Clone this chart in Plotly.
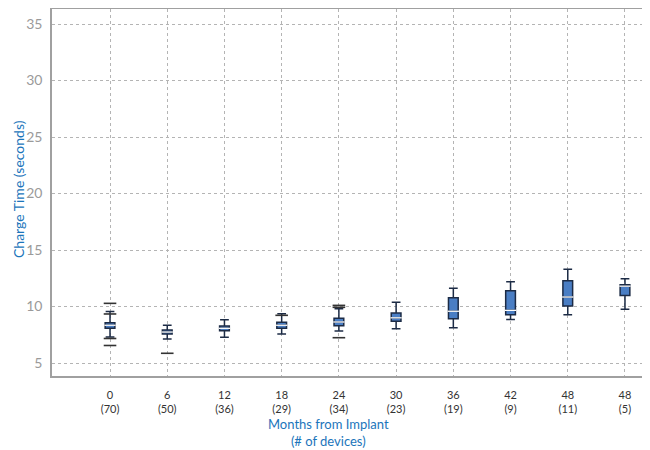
import plotly.graph_objects as go

months = ["0", "6", "12", "18", "24", "30", "36", "42", "48", "48"]
devices = ["70", "50", "36", "29", "34", "23", "19", "9", "11", "5"]
q1 = [8.07, 7.57, 7.86, 8.07, 8.30, 8.69, 8.92, 9.27, 10.04, 10.98]
median = [8.34, 7.74, 8.07, 8.34, 8.63, 9.00, 9.58, 9.66, 10.84, 11.80]
q3 = [8.57, 7.92, 8.27, 8.60, 8.96, 9.42, 10.78, 11.40, 12.28, 11.93]
lowerfence = [7.30, 7.12, 7.27, 7.57, 7.83, 8.04, 8.12, 8.86, 9.27, 9.75]
upperfence = [9.55, 8.34, 8.83, 9.36, 9.80, 10.37, 11.61, 12.19, 13.29, 12.46]
outlier_idx = [0, 0, 0, 0, 1, 3, 4, 4, 4]
outlier_val = [10.28, 9.34, 7.17, 6.55, 5.86, 9.22, 9.93, 10.10, 7.24]

pos = list(range(len(months)))
ticktext = [f"{m}<br>({d})" for m, d in zip(months, devices)]

fig = go.Figure()
fig.add_trace(go.Box(
    x=pos, q1=q1, median=median, q3=q3,
    lowerfence=lowerfence, upperfence=upperfence,
    width=0.17, whiskerwidth=0.9,
    fillcolor="#4a7ec4", line=dict(color="#1c2b45", width=1.5),
    boxpoints=False, showlegend=False, hoverinfo="skip",
))
fig.add_trace(go.Scatter(
    x=outlier_idx, y=outlier_val, mode="markers",
    marker=dict(symbol="line-ew", size=9, line=dict(color="#333333", width=1.6)),
    showlegend=False, hoverinfo="skip",
))
fig.add_trace(go.Scatter(
    x=pos, y=median, mode="markers",
    marker=dict(symbol="line-ew", size=8, line=dict(color="white", width=1.3)),
    showlegend=False, hoverinfo="skip",
))

FONT = "Lato, Open Sans, sans-serif"
PW, PH = 606, 367  # plot area size in px
grid = dict(showgrid=True, gridcolor="#b4b4b4", griddash="3px,3px", gridwidth=1)
fig.update_layout(
    width=650, height=450,
    margin=dict(l=44, r=0, t=1, b=82, autoexpand=False),
    paper_bgcolor="white", plot_bgcolor="white",
    font=dict(family=FONT),
    xaxis=dict(
        range=[-1.014, 9.577], tickmode="array", tickvals=pos, ticktext=ticktext,
        tickfont=dict(size=11, color="#333333"),
        showline=True, linecolor="#a0a0a0", linewidth=1.5, mirror=True,
        zeroline=False, ticks="", ticklabelstandoff=8, automargin=False,
        **grid,
    ),
    yaxis=dict(
        range=[3.85, 36.33], tickvals=[5, 10, 15, 20, 25, 30, 35],
        tickfont=dict(size=14, color="#9a9a9a"),
        showline=True, linecolor="#a0a0a0", linewidth=1.5,
        zeroline=False, ticks="", ticklabelstandoff=5, automargin=False,
        **grid,
    ),
    annotations=[
        dict(text="Charge Time (seconds)", xref="paper", yref="paper",
             x=(18 - 52) / PW, y=(376 - 189) / PH, textangle=-90,
             showarrow=False, xanchor="center", yanchor="middle",
             font=dict(size=14, color="#1b75bb", family=FONT)),
        dict(text="Months from Implant<br>(# of devices)", xref="paper", yref="paper",
             x=(328 - 52) / PW, y=(376 - 432) / PH,
             showarrow=False, xanchor="center", yanchor="middle",
             font=dict(size=13, color="#1b75bb", family=FONT)),
    ],
)
fig.write_html("out.html")
